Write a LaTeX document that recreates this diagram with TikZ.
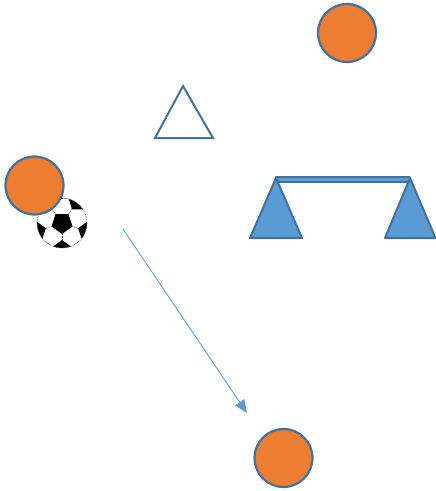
\documentclass[tikz,border=0pt]{standalone}
\usetikzlibrary{arrows.meta,calc}
\definecolor{orng}{HTML}{ED7D31}
\definecolor{bedge}{HTML}{41719C}
\definecolor{bfill}{HTML}{5B9BD5}
\tikzset{
  player/.style={fill=orng, draw=bedge, line width=2.2pt},
  cone/.style={draw=bedge, line width=2pt, line join=miter},
  goalpart/.style={fill=bfill, draw=bedge, line width=2pt, line join=round},
  pass/.style={draw=bfill, line width=0.9pt, -{Triangle[length=13pt,width=11pt]}},
  seam/.style={draw=black!70, line width=0.7pt, densely dotted}
}
\begin{document}
\begin{tikzpicture}[x=1pt,y=-1pt]
\useasboundingbox (0,0) rectangle (436,491);
% ball
\begin{scope}[shift={(62,223)}]
  \fill[white] (0,0) circle (25);
  \begin{scope}
    \clip (0,0) circle (25);
    \fill[black] (90:11) -- (162:11) -- (234:11) -- (306:11) -- (378:11) -- cycle;
    \foreach \a in {90,162,234,306,378} {
      \begin{scope}[shift={(\a:27)}]
        \fill[black] (\a+180:10) -- (\a+252:10) -- (\a+324:10) -- (\a+396:10) -- (\a+468:10) -- cycle;
      \end{scope}
      \draw[seam] (\a:11) -- (\a:17);
      \draw[seam] ($(\a:27)+(\a+108:10)$) -- ($(\a+72:27)+(\a-36:10)$);
    }
  \end{scope}
  \draw[seam] (0,0) circle (25);
\end{scope}
% players
\node[player, circle, minimum size=58pt, inner sep=0pt] (p1) at (347,33) {};
\node[player, circle, minimum size=58pt, inner sep=0pt] (p2) at (34.5,185.5) {};
\node[player, circle, minimum size=58pt, inner sep=0pt] (p3) at (283.5,458) {};
% cone
\draw[cone] (183,86) -- (213,138) -- (155,138) -- cycle;
% goal
\draw[goalpart] (276,177) rectangle (410,182);
\draw[goalpart] (276,178) -- (302,238) -- (250,238) -- cycle;
\draw[goalpart] (410,178) -- (435.5,238) -- (385,238) -- cycle;
% pass
\coordinate (ps) at (123,229);
\coordinate (pe) at (247,413);
\draw[pass] (ps) -- (pe);
\end{tikzpicture}
\end{document}
